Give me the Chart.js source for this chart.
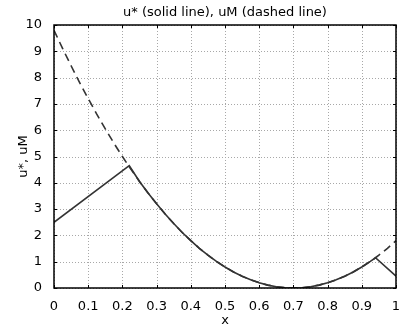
<!DOCTYPE html>
<html>
<head>
<meta charset="utf-8">
<script src="https://cdn.jsdelivr.net/npm/chart.js@4/dist/chart.umd.min.js"></script>
<style>
  html, body { margin:0; padding:0; background:#fff; }
  #wrap { width:415px; height:332px; }
</style>
</head>
<body>
<div id="wrap"><canvas id="chart0"></canvas></div>
<script>
// values
var xM = [0, 0.025, 0.05, 0.075, 0.1, 0.125, 0.15, 0.175, 0.2, 0.22, 0.25, 0.275, 0.3, 0.325, 0.35, 0.375, 0.4, 0.425, 0.45, 0.475, 0.5, 0.525, 0.55, 0.575, 0.6, 0.625, 0.65, 0.675, 0.7, 0.725, 0.75, 0.775, 0.8, 0.825, 0.85, 0.875, 0.9, 0.925, 0.94, 0.95, 0.975, 1];
var uM = [9.8, 9.11, 8.45, 7.81, 7.2, 6.61, 6.05, 5.51, 5.0, 4.61, 4.05, 3.61, 3.2, 2.81, 2.45, 2.11, 1.8, 1.51, 1.25, 1.01, 0.8, 0.61, 0.45, 0.31, 0.2, 0.11, 0.05, 0.01, 0, 0.01, 0.05, 0.11, 0.2, 0.31, 0.45, 0.61, 0.8, 1.01, 1.15, 1.25, 1.51, 1.8];
var xS = [0, 0.22, 0.25, 0.275, 0.3, 0.325, 0.35, 0.375, 0.4, 0.425, 0.45, 0.475, 0.5, 0.525, 0.55, 0.575, 0.6, 0.625, 0.65, 0.675, 0.7, 0.725, 0.75, 0.775, 0.8, 0.825, 0.85, 0.875, 0.9, 0.925, 0.94, 1];
var uS = [2.5, 4.65, 4.05, 3.61, 3.2, 2.81, 2.45, 2.11, 1.8, 1.51, 1.25, 1.01, 0.8, 0.61, 0.45, 0.31, 0.2, 0.11, 0.05, 0.01, 0, 0.01, 0.05, 0.11, 0.2, 0.31, 0.45, 0.61, 0.8, 1.01, 1.15, 0.45];
var xTicks = [0, 0.1, 0.2, 0.3, 0.4, 0.5, 0.6, 0.7, 0.8, 0.9, 1];
var yTicks = [0, 1, 2, 3, 4, 5, 6, 7, 8, 9, 10];
var titleText = 'u* (solid line), uM (dashed line)';
var xLabel = 'x';
var yLabel = 'u*, uM';

var FONT = 'DejaVu Sans';
var ink = '#333';

function pts(xs, ys) {
  return xs.map((x, i) => ({x: x, y: ys[i]}));
}

// dotted grid, drawn under the lines
var gridPlugin = {
  id: 'dotgrid',
  beforeDatasetsDraw(chart) {
    let c = chart.ctx, a = chart.chartArea;
    let sx = chart.scales.x, sy = chart.scales.y;
    c.save();
    c.fillStyle = '#a8a8a8';
    xTicks.forEach(v => {
      let px = Math.round(sx.getPixelForValue(v));
      for (let y = Math.ceil(a.top); y < a.bottom; y += 3) c.fillRect(px, y, 1, 1);
    });
    yTicks.forEach(v => {
      let py = Math.round(sy.getPixelForValue(v));
      for (let x = Math.ceil(a.left); x < a.right; x += 3) c.fillRect(x, py, 1, 1);
    });
    c.restore();
  }
};

// frame, inward tick marks, and the title centred on the plot
var framePlugin = {
  id: 'frame',
  afterDatasetsDraw(chart) {
    let c = chart.ctx, a = chart.chartArea;
    let sx = chart.scales.x, sy = chart.scales.y;
    c.save();
    c.strokeStyle = '#000';
    c.lineWidth = 1;
    c.beginPath();
    yTicks.forEach(v => {
      let py = Math.round(sy.getPixelForValue(v)) + 0.5;
      c.moveTo(a.left, py); c.lineTo(a.left + 3, py);
      c.moveTo(a.right, py); c.lineTo(a.right - 3, py);
    });
    xTicks.forEach(v => {
      let px = Math.round(sx.getPixelForValue(v)) + 0.5;
      c.moveTo(px, a.bottom); c.lineTo(px, a.bottom - 3);
      c.moveTo(px, a.top); c.lineTo(px, a.top + 3);
    });
    c.stroke();
    c.lineWidth = 1.5;
    c.strokeRect(a.left, a.top, a.right - a.left, a.bottom - a.top);

    c.fillStyle = '#000';
    c.font = '13px "' + FONT + '"';
    c.textAlign = 'center';
    c.textBaseline = 'middle';
    c.fillText(titleText, (a.left + a.right) / 2, a.top - 12);
    c.restore();
  }
};

new Chart(document.getElementById('chart0').getContext('2d'), {
  type: 'line',
  data: {
    datasets: [
      {
        label: 'u*',
        data: pts(xS, uS),
        borderColor: ink,
        borderWidth: 1.6,
        pointRadius: 0,
        fill: false,
        tension: 0
      },
      {
        label: 'uM',
        data: pts(xM, uM),
        borderColor: ink,
        borderWidth: 1.6,
        borderDash: [8, 5],
        pointRadius: 0,
        fill: false,
        tension: 0
      }
    ]
  },
  options: {
    animation: false,
    responsive: true,
    maintainAspectRatio: false,
    layout: { padding: { left: 0, right: 19, top: 25, bottom: 0 } },
    plugins: {
      legend: { display: false },
      tooltip: { enabled: false },
      title: { display: false }
    },
    scales: {
      x: {
        type: 'linear',
        min: 0, max: 1,
        afterFit: s => { s.height = 44; },
        afterBuildTicks: s => { s.ticks = xTicks.map(v => ({value: v})); },
        ticks: {
          color: '#000',
          padding: 3,
          maxRotation: 0,
          autoSkip: false,
          font: { family: FONT, size: 13 },
          callback: v => String(v)
        },
        grid: { display: false },
        border: { display: false },
        title: {
          display: true, text: xLabel, color: '#000',
          font: { family: FONT, size: 13 }, padding: { top: 0, bottom: 4 }
        }
      },
      y: {
        min: 0, max: 10,
        afterFit: s => { s.width = 54; },
        afterBuildTicks: s => { s.ticks = yTicks.map(v => ({value: v})); },
        ticks: {
          color: '#000',
          padding: 4,
          autoSkip: false,
          font: { family: FONT, size: 13 }
        },
        grid: { display: false },
        border: { display: false },
        title: {
          display: true, text: yLabel, color: '#000',
          font: { family: FONT, size: 13 }, padding: { top: 16, bottom: 0 }
        }
      }
    }
  },
  plugins: [gridPlugin, framePlugin]
});
</script>
</body>
</html>
